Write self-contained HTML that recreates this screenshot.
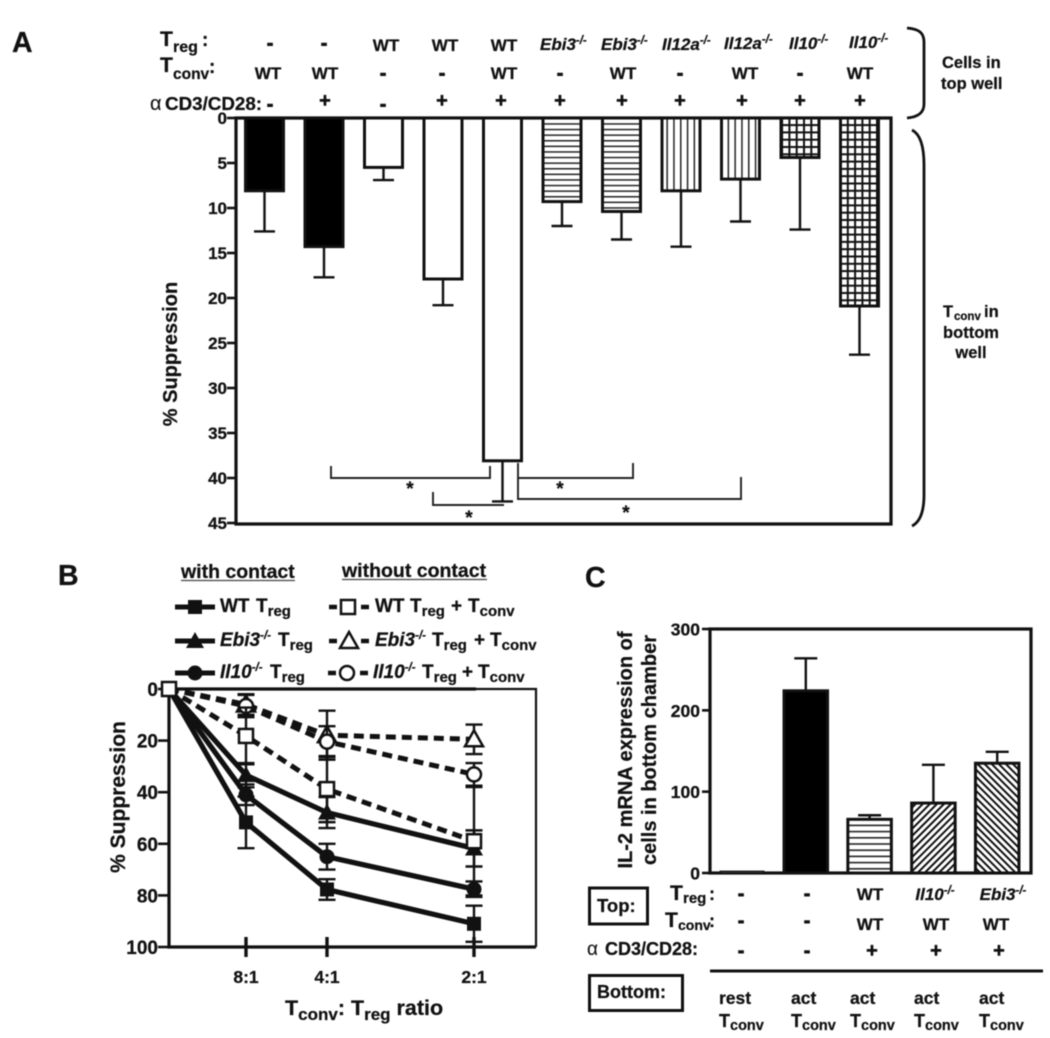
<!DOCTYPE html>
<html lang="en">
<head>
<meta charset="utf-8">
<title>Suppression figure</title>
<style>
html,body{margin:0;padding:0;background:#fff;width:1050px;height:1038px;overflow:hidden}
svg{display:block;filter:blur(0.45px)}
text{font-family:"Liberation Sans",Arial,sans-serif;font-weight:bold;fill:#111;font-size:17px;stroke:#111;stroke-width:.25px}
.i{font-style:italic}
.m{text-anchor:middle}
.e{text-anchor:end}
.sub{font-size:13px}
.sup{font-size:11.5px}
.big{font-size:28.5px}
.leg{font-size:19px}
.lsub{font-size:15px}
.h{font-size:19px;stroke-width:.9px}
.p{font-size:20px;stroke-width:.5px}
.alpha{font-weight:normal;stroke-width:.1px}
</style>
</head>
<body>
<svg id="fig" width="1050" height="1038" viewBox="0 0 1050 1038" xmlns="http://www.w3.org/2000/svg">
<defs>
<pattern id="hatch-h" width="6" height="5.6" patternUnits="userSpaceOnUse"><rect width="6" height="1.5" fill="#222"/></pattern>
<pattern id="hatch-v" width="6.8" height="6" patternUnits="userSpaceOnUse"><rect width="1.5" height="6" fill="#222"/></pattern>
<pattern id="hatch-x" width="7.3" height="7.3" patternUnits="userSpaceOnUse"><rect width="7.3" height="2" fill="#111"/><rect width="2" height="7.3" fill="#111"/></pattern>
<pattern id="hatch-f" width="5" height="5" patternUnits="userSpaceOnUse" patternTransform="rotate(45)"><rect width="2" height="5" fill="#111"/></pattern>
<pattern id="hatch-b" width="5" height="5" patternUnits="userSpaceOnUse" patternTransform="rotate(-45)"><rect width="2" height="5" fill="#111"/></pattern>
<pattern id="hatch-h2" width="6" height="6.2" patternUnits="userSpaceOnUse"><rect width="6" height="1.6" fill="#222"/></pattern>
</defs>

<!-- Panel A labels -->
<text class="big" x="12" y="52">A</text>
<text x="160" y="46" style="font-size:21px">T</text>
<text x="173" y="52" style="font-size:16px">reg</text>
<text x="202" y="46" style="font-size:19px">:</text>
<text x="160" y="72" style="font-size:21px">T</text>
<text x="173" y="79" style="font-size:15.5px">conv</text>
<text x="209" y="73" style="font-size:19px">:</text>
<text class="alpha" x="150" y="110" style="font-size:20px">α</text>
<text x="165" y="110" style="font-size:18.8px">CD3/CD28:</text>

<g>
<text class="m h" x="270" y="49.5">-</text><text class="m h" x="324" y="49.5">-</text>
<text class="m" x="386" y="51">WT</text><text class="m" x="445" y="51">WT</text><text class="m" x="504" y="51">WT</text>
<text class="i" x="540" y="50">Ebi3<tspan class="sup" dy="-6">-/-</tspan></text>
<text class="i" x="601" y="50">Ebi3<tspan class="sup" dy="-6">-/-</tspan></text>
<text class="i" x="662" y="50">Il12a<tspan class="sup" dy="-6">-/-</tspan></text>
<text class="i" x="724" y="49">Il12a<tspan class="sup" dy="-6">-/-</tspan></text>
<text class="i" x="789" y="49">Il10<tspan class="sup" dy="-6">-/-</tspan></text>
<text class="i" x="849" y="48">Il10<tspan class="sup" dy="-6">-/-</tspan></text>
</g>
<g>
<text class="m" x="268" y="79">WT</text><text class="m" x="325" y="79">WT</text>
<text class="m h" x="383" y="79.5">-</text><text class="m h" x="442" y="79.5">-</text>
<text class="m" x="504" y="79">WT</text><text class="m h" x="560" y="79.5">-</text>
<text class="m" x="623" y="79">WT</text><text class="m h" x="680" y="79.5">-</text>
<text class="m" x="745" y="79">WT</text><text class="m h" x="800" y="79.5">-</text>
<text class="m" x="860" y="79">WT</text>
</g>
<g>
<text class="m h" x="270" y="110.5">-</text>
<text class="m p" x="325" y="107">+</text><text class="m h" x="383" y="110.5">-</text>
<text class="m p" x="442" y="107">+</text><text class="m p" x="501" y="107">+</text>
<text class="m p" x="560" y="107">+</text><text class="m p" x="622" y="107">+</text>
<text class="m p" x="680" y="107">+</text><text class="m p" x="742" y="107">+</text>
<text class="m p" x="800" y="107">+</text><text class="m p" x="860" y="107">+</text>
</g>

<path d="M907,28 C918,29 924,32 924,42 L924,104 C924,113 918,117 907,118" fill="none" stroke="#111" stroke-width="2.8"/>
<path d="M912,130 C920,134 924,146 924,165 L924,495 C924,512 920,522 912,526" fill="none" stroke="#111" stroke-width="2.8"/>
<text x="942" y="68" style="font-size:16.5px">Cells in</text>
<text x="941" y="89" style="font-size:16.5px">top well</text>
<text x="943" y="317" style="font-size:16.5px">T</text>
<text x="954" y="320" style="font-size:11.5px">conv</text>
<text x="984" y="317" style="font-size:16.5px">in</text>
<text class="m" x="971" y="338" style="font-size:16.5px">bottom</text>
<text class="m" x="971" y="358" style="font-size:16.5px">well</text>
<text class="m" transform="translate(177,354) rotate(-90)" style="font-size:20px">% Suppression</text>

<g id="panel-a"></g>

<g fill="none" stroke="#222" stroke-width="1.9">
<path d="M331,466 V478 H490 V466"/>
<path d="M433,492 V505 H504"/>
<path d="M518,463 V478 H633 V463"/>
<path d="M518,478 V499 H741 V477"/>
</g>
<g>
<text class="m" x="410" y="495" style="font-size:19px">*</text>
<text class="m" x="469" y="524" style="font-size:19px">*</text>
<text class="m" x="560" y="495" style="font-size:19px">*</text>
<text class="m" x="626" y="519" style="font-size:19px">*</text>
</g>

<!-- Panel B -->
<text class="big" x="58" y="585">B</text>
<text x="181" y="578" style="font-size:19.5px">with contact</text>
<line x1="181" y1="580.5" x2="295" y2="580.5" stroke="#444" stroke-width="1.3"/>
<text x="342" y="577" style="font-size:19.5px">without contact</text>
<line x1="342" y1="579.5" x2="487" y2="579.5" stroke="#444" stroke-width="1.3"/>

<g>
<line x1="175" y1="607" x2="215" y2="607" stroke="#111" stroke-width="5"/><rect x="188" y="600" width="14" height="14" fill="#111"/>
<text class="leg" x="220" y="612">WT</text><text class="leg" x="256" y="612">T<tspan class="lsub" dy="4">reg</tspan></text>
</g>
<g>
<line x1="175" y1="641" x2="215" y2="641" stroke="#111" stroke-width="5"/><path d="M195,632 L204,648 H186 Z" fill="#111"/>
<text class="leg i" x="220" y="646">Ebi3<tspan class="sup" dy="-7">-/-</tspan></text><text class="leg" x="278" y="646">T<tspan class="lsub" dy="4">reg</tspan></text>
</g>
<g>
<line x1="175" y1="673" x2="215" y2="673" stroke="#111" stroke-width="5"/><circle cx="195" cy="673" r="7.5" fill="#111"/>
<text class="leg i" x="220" y="678">Il10<tspan class="sup" dy="-7">-/-</tspan></text><text class="leg" x="270" y="678">T<tspan class="lsub" dy="4">reg</tspan></text>
</g>
<g>
<path d="M329,607 H337 M361,607 H369" stroke="#111" stroke-width="4.5"/><rect x="341" y="600" width="14" height="14" fill="#fff" stroke="#111" stroke-width="2.5"/>
<text class="leg" x="375" y="612">WT</text><text class="leg" x="410" y="612">T<tspan class="lsub" dy="4">reg</tspan></text><text class="leg" x="451" y="612">+</text><text class="leg" x="468" y="612">T<tspan class="lsub" dy="4">conv</tspan></text>
</g>
<g>
<path d="M329,641 H337 M361,641 H369" stroke="#111" stroke-width="4.5"/><path d="M349,632 L358,648 H340 Z" fill="#fff" stroke="#111" stroke-width="2.5"/>
<text class="leg i" x="375" y="646">Ebi3<tspan class="sup" dy="-7">-/-</tspan></text><text class="leg" x="432" y="646">T<tspan class="lsub" dy="4">reg</tspan></text><text class="leg" x="474" y="646">+</text><text class="leg" x="490" y="646">T<tspan class="lsub" dy="4">conv</tspan></text>
</g>
<g>
<path d="M328,673 H336 M360,673 H368" stroke="#111" stroke-width="4.5"/><circle cx="347" cy="673" r="7" fill="#fff" stroke="#111" stroke-width="2.5"/>
<text class="leg i" x="373" y="678">Il10<tspan class="sup" dy="-7">-/-</tspan></text><text class="leg" x="422" y="678">T<tspan class="lsub" dy="4">reg</tspan></text><text class="leg" x="462" y="678">+</text><text class="leg" x="478" y="678">T<tspan class="lsub" dy="4">conv</tspan></text>
</g>

<text class="m" transform="translate(125,797) rotate(-90)" style="font-size:21px">% Suppression</text>
<g id="panel-b"></g>
<text x="285" y="1015" style="font-size:21.5px">T<tspan dy="5" style="font-size:17px">conv</tspan><tspan dy="-5">: T</tspan><tspan dy="5" style="font-size:17px">reg</tspan><tspan dy="-5"> ratio</tspan></text>

<!-- Panel C -->
<text class="big" x="585" y="587">C</text>
<text class="m" transform="translate(632,750) rotate(-90)" style="font-size:20px">IL-2 mRNA expression of</text>
<text class="m" transform="translate(656,750) rotate(-90)" style="font-size:20px">cells in bottom chamber</text>
<g id="panel-c"></g>

<g>
<rect x="589.5" y="888" width="58" height="36" fill="none" stroke="#111" stroke-width="3"/>
<text x="597" y="912" style="font-size:18.5px">Top:</text>
<text x="670" y="900" style="font-size:21px">T</text><text x="683" y="903" style="font-size:15px">reg</text><text x="709" y="900" style="font-size:18px">:</text>
<text x="665" y="927" style="font-size:21px">T</text><text x="678" y="930" style="font-size:14px">conv</text><text x="709" y="927" style="font-size:18px">:</text>
<text class="alpha" x="587" y="955" style="font-size:19px">α</text><text x="605" y="955" style="font-size:18px">CD3/CD28:</text>
<text class="m h" x="741" y="900">-</text><text class="m h" x="807" y="900">-</text><text class="m" x="870" y="900">WT</text>
<text class="i m" x="935" y="900">Il10<tspan class="sup" dy="-6">-/-</tspan></text>
<text class="i m" x="1003" y="900">Ebi3<tspan class="sup" dy="-6">-/-</tspan></text>
<text class="m h" x="741" y="927">-</text><text class="m h" x="807" y="927">-</text><text class="m" x="870" y="930">WT</text><text class="m" x="936" y="930">WT</text><text class="m" x="996" y="930">WT</text>
<text class="m h" x="741" y="957">-</text><text class="m h" x="807" y="957">-</text><text class="m p" x="872" y="957">+</text><text class="m p" x="936" y="957">+</text><text class="m p" x="999" y="957">+</text>
<line x1="710" y1="971" x2="1043" y2="971" stroke="#111" stroke-width="3"/>
<rect x="589.5" y="975.5" width="93" height="35" fill="none" stroke="#111" stroke-width="3"/>
<text x="597" y="998" style="font-size:18px">Bottom:</text>
<text x="719" y="1004" style="font-size:17.5px">rest</text><text x="791" y="1004" style="font-size:17.5px">act</text><text x="850" y="1004" style="font-size:17.5px">act</text><text x="914" y="1004" style="font-size:17.5px">act</text><text x="979" y="1004" style="font-size:17.5px">act</text>
<text x="719" y="1027" style="font-size:18px">T<tspan dy="3" style="font-size:14.5px">conv</tspan></text>
<text x="791" y="1027" style="font-size:18px">T<tspan dy="3" style="font-size:14.5px">conv</tspan></text>
<text x="850" y="1027" style="font-size:18px">T<tspan dy="3" style="font-size:14.5px">conv</tspan></text>
<text x="914" y="1027" style="font-size:18px">T<tspan dy="3" style="font-size:14.5px">conv</tspan></text>
<text x="979" y="1027" style="font-size:18px">T<tspan dy="3" style="font-size:14.5px">conv</tspan></text>
</g>
</svg>

<script>
// Panel A data
const aTicks = [0, 5, 10, 15, 20, 25, 30, 35, 40, 45];
const aValues = [8.2, 14.4, 5.6, 18, 38.2, 9.4, 10.5, 8.2, 6.9, 4.5, 21];
const aErrors = [4.4, 3.3, 1.3, 2.8, 4.4, 2.6, 3, 6.1, 4.6, 7.9, 5.3];
const aFills = ['#000', '#000', '#fff', '#fff', '#fff', 'url(#hatch-h)', 'url(#hatch-h)', 'url(#hatch-v)', 'url(#hatch-v)', 'url(#hatch-x)', 'url(#hatch-x)'];

// Panel B data
const bTicks = [0, 20, 40, 60, 80, 100];
const bRatios = ['8:1', '4:1', '2:1'];
const bSeriesNames = ['wt-treg', 'ebi3-treg', 'il10-treg', 'wt-treg-tconv', 'ebi3-treg-tconv', 'il10-treg-tconv'];
const bWt = [0, 51.7, 77.7, 91];
const bWtErr = [0, 10, 4, 7];
const bEbi3 = [0, 33.4, 47.9, 61.8];
const bEbi3Err = [0, 4.7, 6, 7];
const bIl10 = [0, 41, 65, 77.6];
const bIl10Err = [0, 4, 5, 3];
const bWtC = [0, 18.2, 38.8, 59];
const bWtCErr = [0, 11, 12.8, 21];
const bEbi3C = [0, 6, 17.9, 19.5];
const bEbi3CErr = [0, 4, 9.5, 5.7];
const bIl10C = [0, 6.6, 20.4, 33.1];
const bIl10CErr = [0, 4.3, 6, 4.4];

// Panel C data
const cTicks = [0, 100, 200, 300];
const cValues = [2, 224, 66, 86, 135];
const cErrors = [0, 40, 5, 47, 14];
const cFills = ['#fff', '#000', 'url(#hatch-h2)', 'url(#hatch-f)', 'url(#hatch-b)'];

const NS = 'http://www.w3.org/2000/svg';
function make(tag, attrs, parent, txt) {
  const n = document.createElementNS(NS, tag);
  for (const k in attrs) n.setAttribute(k, attrs[k]);
  if (txt !== undefined) n.textContent = txt;
  parent.appendChild(n);
  return n;
}

/* ---------- Panel A ---------- */
const pa = document.getElementById('panel-a');
const ax = i => 264.5 + 59.5 * i;
const ay = v => 118 + v * 9;
const aFrame = make('path', {d: 'M236,118 H891 V524 H236 Z', fill: '#fff', stroke: '#111', 'stroke-width': 3.2}, pa);


aTicks.forEach(t => {
  const tk = make('line', {x1: 227, x2: 236, y1: ay(t), y2: ay(t), stroke: '#111', 'stroke-width': 2.6}, pa);
  
  
  const lb = make('text', {x: 227, y: ay(t) + 6, class: 'e'}, pa, t);
  
  
});
aValues.forEach((v, i) => {
  const cx = ax(i), bw = 38;
  const bottom = ay(v) - 1;
  const end = ay(v + aErrors[i]);
  const w = make('path', {d: `M${cx},${bottom} V${end} M${cx - 10.5},${end} H${cx + 10.5}`, fill: 'none', stroke: '#111', 'stroke-width': 2.4}, pa);
  
  
  const base = make('rect', {x: cx - bw / 2, y: ay(0), width: bw, height: bottom - ay(0), fill: '#fff'}, pa);
  
  
  const r = make('rect', {x: cx - bw / 2, y: ay(0), width: bw, height: bottom - ay(0), fill: aFills[i], stroke: '#111', 'stroke-width': 3}, pa);
  
  
});

/* ---------- Panel B ---------- */
const pb = document.getElementById('panel-b');
const bx = i => {
  const stops = [169, 246, 327, 474];
  return stops[i];
};
const by = v => 689 + v * 2.58;
const bFrame = make('path', {d: 'M169,689 H536 V947', fill: 'none', stroke: '#111', 'stroke-width': 2.2}, pb);


const bAxes = make('path', {d: 'M476,689 H169 V947 H536', fill: 'none', stroke: '#111', 'stroke-width': 3.2}, pb);


bTicks.forEach(t => {
  const tk = make('line', {x1: 158, x2: 169, y1: by(t), y2: by(t), stroke: '#111', 'stroke-width': 2.6}, pb);
  
  
  const lb = make('text', {x: 158, y: by(t) + 7, class: 'e', style: 'font-size:19px'}, pb, t);
  
  
});
bRatios.forEach((r, i) => {
  const x = bx(i + 1);
  const tk = make('line', {x1: x, x2: x, y1: 937, y2: 957, stroke: '#111', 'stroke-width': 3.4}, pb);
  
  
  const lb = make('text', {x: x, y: 983, class: 'm', style: 'font-size:17.5px'}, pb, r);
  
  
});
function drawMarker(kind, x, y, parent) {
  let m;
  if (kind === 'square') m = make('rect', {x: x - 7, y: y - 7, width: 14, height: 14, fill: '#111'}, parent);
  if (kind === 'triangle') m = make('path', {d: `M${x},${y - 9} L${x + 9},${y + 7} H${x - 9} Z`, fill: '#111'}, parent);
  if (kind === 'circle') m = make('circle', {cx: x, cy: y, r: 7.5, fill: '#111'}, parent);
  if (kind === 'open-square') m = make('rect', {x: x - 7, y: y - 7, width: 14, height: 14, fill: '#fff', stroke: '#111', 'stroke-width': 2.5}, parent);
  if (kind === 'open-triangle') m = make('path', {d: `M${x},${y - 9} L${x + 9},${y + 7} H${x - 9} Z`, fill: '#fff', stroke: '#111', 'stroke-width': 2.5}, parent);
  if (kind === 'open-circle') m = make('circle', {cx: x, cy: y, r: 7, fill: '#fff', stroke: '#111', 'stroke-width': 2.5}, parent);
  
  
}
function drawSeries(name, values, errors, kind, dashed) {
  const g = make('g', {}, pb);
  
  
  values.forEach((v, i) => {
    if (i === 0) return;
    const x = bx(i), t = by(v - errors[i]), b = by(v + errors[i]);
    const w = make('path', {d: `M${x},${t} V${b} M${x - 8.5},${t} H${x + 8.5} M${x - 8.5},${b} H${x + 8.5}`, fill: 'none', stroke: '#111', 'stroke-width': 2.4}, g);
    
    
  });
  const pts = values.map((v, i) => bx(i) + ',' + by(v)).join(' ');
  const l = make('polyline', {points: pts, fill: 'none', stroke: '#111', 'stroke-width': dashed ? 5 : 5.2}, g);
  if (dashed) l.setAttribute('stroke-dasharray', '10 6');
  
  
  values.forEach((v, i) => {
    if (i === 0 && kind !== 'open-square') return;
    drawMarker(kind, bx(i), by(v), g);
  });
}
drawSeries(bSeriesNames[0], bWt, bWtErr, 'square', false);
drawSeries(bSeriesNames[1], bEbi3, bEbi3Err, 'triangle', false);
drawSeries(bSeriesNames[2], bIl10, bIl10Err, 'circle', false);
drawSeries(bSeriesNames[4], bEbi3C, bEbi3CErr, 'open-triangle', true);
drawSeries(bSeriesNames[5], bIl10C, bIl10CErr, 'open-circle', true);
drawSeries(bSeriesNames[3], bWtC, bWtCErr, 'open-square', true);

/* ---------- Panel C ---------- */
const pc = document.getElementById('panel-c');
const cx = i => 742 + 63.8 * i;
const cy = v => 873 - v * 0.8133;
const cFrame = make('rect', {x: 710, y: 629, width: 321, height: 244, fill: '#fff', stroke: '#111', 'stroke-width': 3.2}, pc);


cTicks.forEach(t => {
  const tk = make('line', {x1: 702, x2: 710, y1: cy(t), y2: cy(t), stroke: '#111', 'stroke-width': 2.6}, pc);
  
  
  const lb = make('text', {x: 700, y: cy(t) + 6.5, class: 'e', style: 'font-size:17.5px'}, pc, t);
  
  
});
cValues.forEach((v, i) => {
  const x = cx(i), bw = 43.5;
  const top = cy(v), end = cy(v + cErrors[i]);
  if (cErrors[i] > 0) {
    const w = make('path', {d: `M${x},${top} V${end} M${x - 11.5},${end} H${x + 11.5}`, fill: 'none', stroke: '#111', 'stroke-width': 2.4}, pc);
    
    
  }
  const base = make('rect', {x: x - bw / 2, y: top, width: bw, height: 873 - top, fill: '#fff'}, pc);
  
  
  const r = make('rect', {x: x - bw / 2, y: top, width: bw, height: 873 - top, fill: cFills[i], stroke: '#111', 'stroke-width': i === 0 ? 1.5 : 3}, pc);
  
  
});
</script>
</body>
</html>
